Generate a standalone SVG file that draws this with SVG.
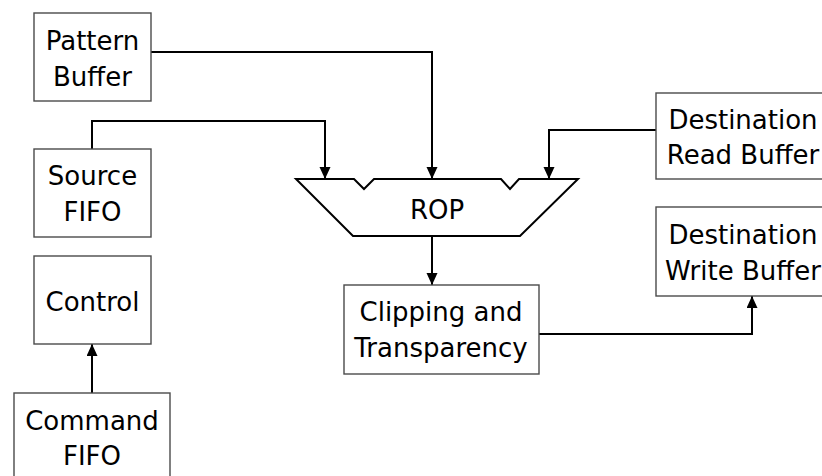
<svg xmlns="http://www.w3.org/2000/svg" width="822" height="476" viewBox="0 0 822 476">
  <style>
    .box { fill: #ffffff; stroke: #4a4a4a; stroke-width: 1.4; }
    .lbl { font-family: "DejaVu Sans", Verdana, sans-serif; font-size: 26px; fill: #000000; text-anchor: middle; }
    .wire { fill: none; stroke: #000000; stroke-width: 2; marker-end: url(#arrow); }
    .rop { fill: #ffffff; stroke: #000000; stroke-width: 2; stroke-linejoin: miter; }
  </style>
  <defs>
    <marker id="arrow" markerUnits="userSpaceOnUse" markerWidth="13" markerHeight="12" refX="12" refY="5.5" orient="auto">
      <path d="M0,0 L12,5.5 L0,11 Z" fill="#000000"/>
    </marker>
  </defs>
  <rect width="822" height="476" fill="#ffffff"/>

  <g id="connectors">
    <path class="wire" d="M151,52 H432 V179"/>
    <path class="wire" d="M92,149 V121 H325 V179"/>
    <path class="wire" d="M656,130 H549 V179"/>
    <path class="wire" d="M432,236 V285"/>
    <path class="wire" d="M539,334 H752 V296"/>
    <path class="wire" d="M92,393 V344"/>
  </g>

  <g id="pattern-buffer">
    <rect class="box" x="34" y="13" width="117" height="88"/>
    <text class="lbl" x="92.5" y="49.5">Pattern</text>
    <text class="lbl" x="92.5" y="85.5">Buffer</text>
  </g>

  <g id="source-fifo">
    <rect class="box" x="34" y="149" width="117" height="88"/>
    <text class="lbl" x="92.5" y="185">Source</text>
    <text class="lbl" x="92.5" y="221">FIFO</text>
  </g>

  <g id="control">
    <rect class="box" x="34" y="256" width="117" height="88"/>
    <text class="lbl" x="92.5" y="311">Control</text>
  </g>

  <g id="command-fifo">
    <rect class="box" x="14" y="393" width="156" height="88"/>
    <text class="lbl" x="92" y="429.5">Command</text>
    <text class="lbl" x="92" y="465">FIFO</text>
  </g>

  <g id="rop">
    <polygon class="rop" points="296,179 354,179 364,189 374,179 501,179 510,189 519,179 578,179 520,236 353,236"/>
    <text class="lbl" x="437" y="219">ROP</text>
  </g>

  <g id="clipping-transparency">
    <rect class="box" x="344" y="285" width="195" height="89"/>
    <text class="lbl" x="441" y="321">Clipping and</text>
    <text class="lbl" x="441" y="357">Transparency</text>
  </g>

  <g id="destination-read-buffer">
    <rect class="box" x="656" y="93" width="174" height="86"/>
    <text class="lbl" x="743" y="128.5">Destination</text>
    <text class="lbl" x="743" y="164">Read Buffer</text>
  </g>

  <g id="destination-write-buffer">
    <rect class="box" x="656" y="207" width="174" height="89"/>
    <text class="lbl" x="743" y="244">Destination</text>
    <text class="lbl" x="743" y="280">Write Buffer</text>
  </g>
</svg>
